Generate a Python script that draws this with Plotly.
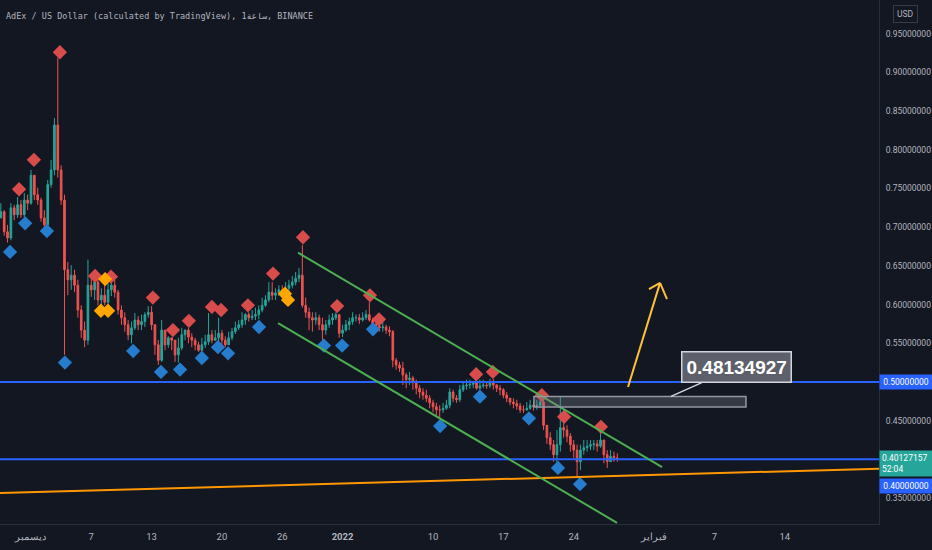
import pandas as pd
import plotly.graph_objects as go

BG = "#131722"
TEXT = "#b2b5be"
AXIS_LINE = "#2a2e39"
AXIS_FONT = "Roboto, sans-serif"

# 8-hour candles, starting 2021-11-28 00:00
first_open = 0.712
close = [
    0.720, 0.694, 0.686,  # Nov 28
    0.725, 0.716, 0.729,  # Nov 29
    0.716, 0.735, 0.731,  # Nov 30
    0.767, 0.742, 0.735,  # Dec 1
    0.712, 0.703, 0.755,  # Dec 2
    0.774, 0.832, 0.774,  # Dec 3
    0.735, 0.645, 0.632,  # Dec 4
    0.638, 0.625, 0.593,  # Dec 5
    0.567, 0.554, 0.625,  # Dec 6
    0.619, 0.629, 0.606,  # Dec 7
    0.612, 0.603, 0.619,  # Dec 8
    0.625, 0.616, 0.593,  # Dec 9
    0.583, 0.574, 0.561,  # Dec 10
    0.570, 0.580, 0.574,  # Dec 11
    0.578, 0.587, 0.590,  # Dec 12
    0.574, 0.548, 0.528,  # Dec 13
    0.567, 0.548, 0.557,  # Dec 14
    0.554, 0.535, 0.544,  # Dec 15
    0.561, 0.567, 0.558,  # Dec 16
    0.554, 0.548, 0.541,  # Dec 17
    0.548, 0.552, 0.561,  # Dec 18
    0.554, 0.557, 0.563,  # Dec 19
    0.554, 0.548, 0.557,  # Dec 20
    0.565, 0.570, 0.574,  # Dec 21
    0.580, 0.587, 0.583,  # Dec 22
    0.585, 0.587, 0.593,  # Dec 23
    0.599, 0.606, 0.616,  # Dec 24
    0.612, 0.615, 0.619,  # Dec 25
    0.616, 0.621, 0.625,  # Dec 26
    0.629, 0.634, 0.638,  # Dec 27
    0.599, 0.590, 0.583,  # Dec 28
    0.580, 0.583, 0.574,  # Dec 29
    0.567, 0.574, 0.580,  # Dec 30
    0.583, 0.587, 0.563,  # Dec 31
    0.567, 0.574, 0.578,  # Jan 1
    0.583, 0.583, 0.580,  # Jan 2
    0.583, 0.587, 0.580,  # Jan 3
    0.575, 0.572, 0.570,  # Jan 4
    0.571, 0.567, 0.565,  # Jan 5
    0.528, 0.522, 0.518,  # Jan 6
    0.509, 0.503, 0.505,  # Jan 7
    0.499, 0.492, 0.487,  # Jan 8
    0.483, 0.479, 0.473,  # Jan 9
    0.468, 0.464, 0.464,  # Jan 10
    0.466, 0.470, 0.487,  # Jan 11
    0.479, 0.477, 0.490,  # Jan 12
    0.495, 0.496, 0.497,  # Jan 13
    0.499, 0.492, 0.495,  # Jan 14
    0.496, 0.495, 0.499,  # Jan 15
    0.496, 0.492, 0.490,  # Jan 16
    0.483, 0.479, 0.474,  # Jan 17
    0.472, 0.469, 0.464,  # Jan 18
    0.464, 0.466, 0.470,  # Jan 19
    0.468, 0.470, 0.474,  # Jan 20
    0.444, 0.428, 0.419,  # Jan 21
    0.406, 0.419, 0.441,  # Jan 22
    0.438, 0.430, 0.419,  # Jan 23
    0.412, 0.397, 0.412,  # Jan 24
    0.415, 0.417, 0.419,  # Jan 25
    0.420, 0.417, 0.425,  # Jan 26
    0.406, 0.397, 0.404,  # Jan 27
    0.402, 0.40127157,    # Jan 28
]
high = [
    0.731, 0.722, 0.703,
    0.731, 0.729, 0.739,
    0.735, 0.744, 0.742,
    0.774, 0.764, 0.751,
    0.738, 0.722, 0.761,
    0.787, 0.841, 0.919,
    0.780, 0.742, 0.655,
    0.651, 0.645, 0.632,
    0.599, 0.578, 0.658,
    0.638, 0.641, 0.634,
    0.621, 0.628, 0.628,
    0.629, 0.632, 0.619,
    0.599, 0.590, 0.580,
    0.578, 0.589, 0.585,
    0.587, 0.590, 0.598,
    0.598, 0.574, 0.554,
    0.580, 0.563, 0.559,
    0.557, 0.554, 0.557,
    0.570, 0.568, 0.570,
    0.563, 0.557, 0.552,
    0.557, 0.561, 0.589,
    0.567, 0.567, 0.583,
    0.567, 0.559, 0.565,
    0.570, 0.578, 0.580,
    0.590, 0.589, 0.590,
    0.593, 0.596, 0.599,
    0.609, 0.612, 0.629,
    0.629, 0.621, 0.625,
    0.625, 0.629, 0.632,
    0.637, 0.642, 0.647,
    0.677, 0.609, 0.596,
    0.590, 0.590, 0.587,
    0.583, 0.580, 0.587,
    0.589, 0.590, 0.587,
    0.574, 0.580, 0.583,
    0.590, 0.587, 0.588,
    0.590, 0.593, 0.603,
    0.583, 0.578, 0.575,
    0.578, 0.574, 0.572,
    0.567, 0.531, 0.526,
    0.526, 0.512, 0.513,
    0.508, 0.503, 0.496,
    0.492, 0.490, 0.483,
    0.477, 0.473, 0.470,
    0.473, 0.477, 0.492,
    0.490, 0.483, 0.496,
    0.501, 0.503, 0.503,
    0.501, 0.500, 0.503,
    0.503, 0.500, 0.504,
    0.504, 0.497, 0.496,
    0.492, 0.487, 0.479,
    0.479, 0.477, 0.473,
    0.470, 0.474, 0.477,
    0.474, 0.477, 0.477,
    0.477, 0.444, 0.435,
    0.425, 0.438, 0.481,
    0.464, 0.444, 0.434,
    0.425, 0.419, 0.419,
    0.425, 0.425, 0.425,
    0.425, 0.425, 0.434,
    0.425, 0.412, 0.412,
    0.410, 0.408,
]
low = [
    0.712, 0.689, 0.680,
    0.683, 0.709, 0.712,
    0.712, 0.713, 0.722,
    0.729, 0.735, 0.729,
    0.707, 0.699, 0.702,
    0.751, 0.767, 0.764,
    0.729, 0.535, 0.612,
    0.619, 0.616, 0.583,
    0.557, 0.545, 0.548,
    0.610, 0.606, 0.599,
    0.596, 0.599, 0.601,
    0.611, 0.609, 0.587,
    0.574, 0.565, 0.554,
    0.550, 0.567, 0.567,
    0.567, 0.571, 0.583,
    0.567, 0.535, 0.522,
    0.526, 0.541, 0.544,
    0.541, 0.526, 0.525,
    0.541, 0.554, 0.550,
    0.545, 0.541, 0.539,
    0.539, 0.544, 0.548,
    0.550, 0.553, 0.552,
    0.548, 0.545, 0.548,
    0.554, 0.562, 0.567,
    0.570, 0.574, 0.578,
    0.580, 0.580, 0.581,
    0.590, 0.597, 0.603,
    0.606, 0.606, 0.611,
    0.609, 0.611, 0.616,
    0.621, 0.625, 0.629,
    0.596, 0.583, 0.567,
    0.565, 0.574, 0.567,
    0.554, 0.561, 0.570,
    0.574, 0.580, 0.557,
    0.558, 0.565, 0.567,
    0.574, 0.578, 0.575,
    0.578, 0.580, 0.578,
    0.570, 0.567, 0.565,
    0.565, 0.562, 0.559,
    0.519, 0.516, 0.513,
    0.496, 0.492, 0.496,
    0.490, 0.484, 0.479,
    0.477, 0.474, 0.466,
    0.461, 0.455, 0.453,
    0.460, 0.464, 0.466,
    0.474, 0.473, 0.474,
    0.487, 0.490, 0.491,
    0.492, 0.490, 0.490,
    0.492, 0.491, 0.492,
    0.490, 0.487, 0.483,
    0.479, 0.474, 0.470,
    0.466, 0.464, 0.460,
    0.460, 0.463, 0.464,
    0.463, 0.464, 0.466,
    0.438, 0.420, 0.412,
    0.397, 0.395, 0.410,
    0.428, 0.422, 0.410,
    0.402, 0.377, 0.386,
    0.406, 0.410, 0.412,
    0.412, 0.410, 0.415,
    0.395, 0.389, 0.397,
    0.397, 0.397,
]

# pivot markers (time, price)
red_times = ["2021-11-29 19:30", "2021-12-01 07:00", "2021-12-03 21:00", "2021-12-07 09:00",
             "2021-12-08 23:00", "2021-12-13 03:00", "2021-12-15 03:00", "2021-12-16 17:00",
             "2021-12-19 00:00", "2021-12-19 22:00", "2021-12-22 14:00", "2021-12-25 02:00",
             "2021-12-28 01:30", "2021-12-31 11:00", "2022-01-03 17:30", "2022-01-04 15:00",
             "2022-01-14 07:00", "2022-01-15 23:00", "2022-01-20 20:00", "2022-01-23 01:00",
             "2022-01-26 17:00"]
red_prices = [0.749, 0.787, 0.926, 0.637, 0.636, 0.609, 0.567, 0.579, 0.597, 0.593, 0.599,
              0.640, 0.687, 0.598, 0.612, 0.581, 0.510, 0.513, 0.483, 0.455, 0.442]
blue_times = ["2021-11-28 22:00", "2021-11-30 10:00", "2021-12-02 14:00", "2021-12-04 09:00",
              "2021-12-11 04:00", "2021-12-13 22:30", "2021-12-15 20:00", "2021-12-18 00:00",
              "2021-12-19 14:30", "2021-12-20 14:30", "2021-12-23 16:30", "2021-12-30 03:30",
              "2021-12-31 23:00", "2022-01-04 00:45", "2022-01-10 17:00", "2022-01-14 16:00",
              "2022-01-19 13:00", "2022-01-22 10:30", "2022-01-24 15:00"]
blue_prices = [0.668, 0.705, 0.695, 0.525, 0.540, 0.513, 0.516, 0.531, 0.545, 0.537, 0.571,
               0.547, 0.547, 0.568, 0.443, 0.481, 0.453, 0.389, 0.368]
orange_times = ["2021-12-08 09:00", "2021-12-07 23:00", "2021-12-08 16:00",
                "2021-12-26 06:30", "2021-12-26 13:45"]
orange_prices = [0.633, 0.592, 0.592, 0.614, 0.606]

# axis labels
x_tick_dates = ["2021-12-01", "2021-12-07", "2021-12-13", "2021-12-20", "2021-12-26",
                "2022-01-01", "2022-01-10", "2022-01-17", "2022-01-24", "2022-02-01",
                "2022-02-07", "2022-02-14"]
x_tick_labels = ["ديسمبر", "7", "13", "20", "26", "<b>2022</b>", "10", "17", "24",
                 "فبراير", "7", "14"]
y_tick_values = [0.35, 0.45, 0.55, 0.60, 0.65, 0.70, 0.75, 0.80, 0.85, 0.90, 0.95]

last_price = 0.40127157
support_a = 0.50
support_b = 0.40
zone_top = 0.48134927
zone_bottom = 0.4677

opens = [first_open] + close[:-1]
high = [max(h, o, c) for h, o, c in zip(high, opens, close)]
low = [min(lo, o, c) for lo, o, c in zip(low, opens, close)]
times = pd.date_range("2021-11-28 00:00", periods=len(close), freq="8h")

fig = go.Figure()
fig.add_trace(
    go.Candlestick(
        x=times,
        open=opens,
        high=high,
        low=low,
        close=close,
        increasing={"line": {"color": "#26a69a", "width": 1}, "fillcolor": "#26a69a"},
        decreasing={"line": {"color": "#ef5350", "width": 1}, "fillcolor": "#ef5350"},
        whiskerwidth=0,
        hoverinfo="skip",
    )
)
for t, p, col in [
    (red_times, red_prices, "#d94c4c"),
    (blue_times, blue_prices, "#267dcd"),
    (orange_times, orange_prices, "#ffa600"),
]:
    fig.add_trace(
        go.Scatter(
            x=t,
            y=p,
            mode="markers",
            marker={"symbol": "diamond", "size": 11, "color": col, "line": {"width": 0}},
            hoverinfo="skip",
        )
    )

shapes = [
    # horizontal levels
    dict(type="line", xref="paper", x0=0, x1=1, y0=support_a, y1=support_a,
         line={"color": "#2962ff", "width": 2}),
    dict(type="line", xref="paper", x0=0, x1=1, y0=support_b, y1=support_b,
         line={"color": "#2962ff", "width": 2}),
    # rising orange trend line
    dict(type="line", x0="2021-11-27 22:00", y0=0.3566, x1="2022-02-23 09:00", y1=0.3880,
         line={"color": "#ff9800", "width": 2}),
    # falling channel
    dict(type="line", x0="2021-12-27 13:40", y0=0.667, x1="2022-02-01 19:00", y1=0.390,
         line={"color": "#4caf50", "width": 2}),
    dict(type="line", x0="2021-12-25 14:00", y0=0.576, x1="2022-01-28 07:30", y1=0.318,
         line={"color": "#4caf50", "width": 2}),
    # resistance zone
    dict(type="rect", x0="2022-01-20 01:00", x1="2022-02-10 03:20", y0=zone_bottom, y1=zone_top,
         fillcolor="rgba(120,123,134,0.35)", line={"color": "#9598a1", "width": 1.5}),
    # yellow arrow
    dict(type="line", x0="2022-01-29 09:40", y0=0.4935, x1="2022-02-01 14:10", y1=0.628,
         line={"color": "#ffc13b", "width": 2}),
    dict(type="line", x0="2022-01-31 11:45", y0=0.620, x1="2022-02-01 14:10", y1=0.628,
         line={"color": "#ffc13b", "width": 2}),
    dict(type="line", x0="2022-02-02 06:45", y0=0.607, x1="2022-02-01 14:10", y1=0.628,
         line={"color": "#ffc13b", "width": 2}),
]

label_font = {"family": AXIS_FONT, "size": 8.5, "color": "white"}
annotations = [
    dict(xref="paper", yref="paper", x=0, y=1, xanchor="left", yanchor="top", xshift=4, yshift=-9,
         text="AdEx / US Dollar (calculated by TradingView), 1ساعة, BINANCE", showarrow=False,
         font={"family": "DejaVu Sans Mono", "size": 8.5, "color": TEXT}),
    dict(xref="paper", yref="paper", x=1.0296, y=1, xanchor="center", yanchor="top", yshift=-5,
         text="USD", showarrow=False, bordercolor="#363a45", borderwidth=1, borderpad=3,
         font={"family": AXIS_FONT, "size": 8.5, "color": TEXT}),
    dict(x="2022-02-02 16:20", y=zone_top, text="<b>0.48134927</b>", showarrow=True,
         arrowhead=0, arrowwidth=1.5, arrowcolor="#d1d4dc", ax=65, ay=-29,
         bgcolor="#5d606b", bordercolor="#d1d4dc", borderwidth=1.5, borderpad=4,
         font={"family": "Liberation Sans", "size": 19, "color": "white"}),
    dict(xref="paper", x=1, y=support_a, xanchor="left", yanchor="middle", showarrow=False,
         text="0.50000000", bgcolor="#2962ff", borderpad=2, width=48, font=label_font),
    dict(xref="paper", x=1, y=last_price, xanchor="left", yanchor="top", yshift=8,
         showarrow=False, text=f"{last_price:.8f}<br>52:04", align="left",
         bgcolor="#26a69a", borderpad=2, width=48, font=label_font),
    dict(xref="paper", x=1, y=support_b, xanchor="left", yanchor="top", yshift=-19,
         showarrow=False, text="0.40000000", bgcolor="#2962ff", borderpad=2, width=48,
         font=label_font),
]

fig.update_layout(
    width=932,
    height=550,
    margin={"l": 0, "r": 53, "t": 0, "b": 26},
    paper_bgcolor=BG,
    plot_bgcolor=BG,
    showlegend=False,
    shapes=shapes,
    annotations=annotations,
    xaxis={
        "type": "date",
        "range": ["2021-11-27 22:00", "2022-02-23 09:00"],
        "rangeslider": {"visible": False},
        "showgrid": False,
        "zeroline": False,
        "showline": True,
        "linecolor": AXIS_LINE,
        "tickvals": x_tick_dates,
        "ticktext": x_tick_labels,
        "tickfont": {"family": AXIS_FONT, "size": 9.5, "color": TEXT},
        "ticklabelstandoff": 4,
        "fixedrange": True,
    },
    yaxis={
        "side": "right",
        "range": [0.3165, 0.9935],
        "showgrid": False,
        "zeroline": False,
        "showline": True,
        "linecolor": AXIS_LINE,
        "tickvals": y_tick_values,
        "ticktext": [f"{v:.8f}" for v in y_tick_values],
        "tickfont": {"family": AXIS_FONT, "size": 8.5, "color": TEXT},
        "ticklabelstandoff": 4,
        "fixedrange": True,
    },
)

fig.write_html(
    "out.html",
    config={"displayModeBar": False},
    post_script="document.body.style.margin='0';",
)
